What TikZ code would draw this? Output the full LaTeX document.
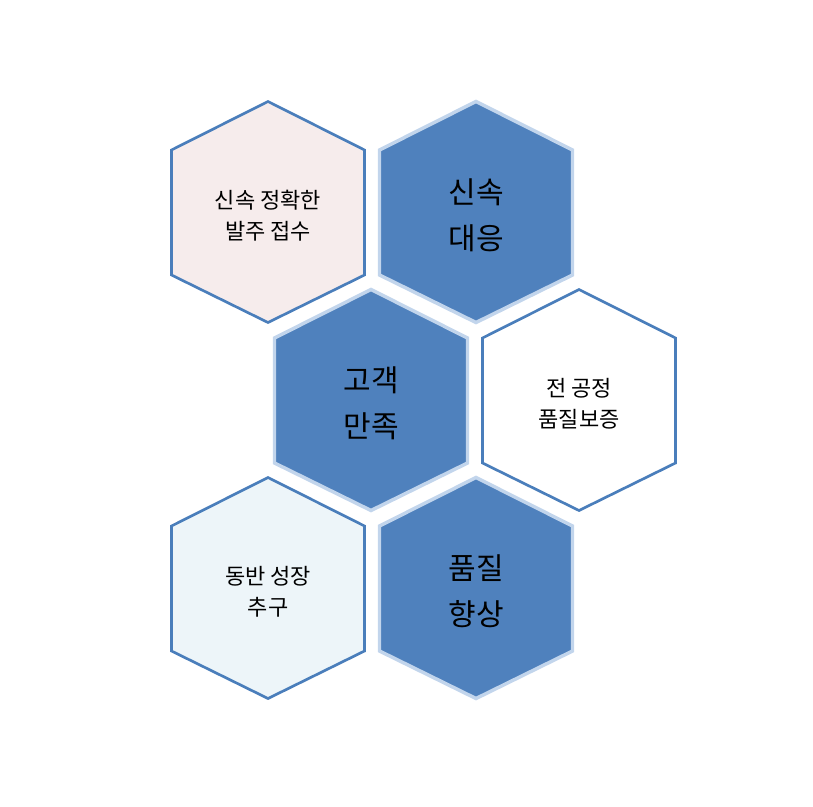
\documentclass[tikz,border=0pt]{standalone}
\usepackage{fontspec}
\setmainfont{Noto Sans CJK KR}
\definecolor{hexblue}{HTML}{4F81BD}
\definecolor{hexline}{HTML}{4A7EBB}
\definecolor{hexedge}{HTML}{C2D5EC}
\definecolor{hexpink}{HTML}{F6ECEC}
\definecolor{hexsky}{HTML}{EDF5F9}
\tikzset{
  hexa/.pic={
    \path[pic actions] (0,-110.5) -- (96.5,-62) -- (96.5,63) -- (0,110.5)
      -- (-96.5,63) -- (-96.5,-62) -- cycle;
  },
  lighthex/.style={draw=hexline, line width=2pt},
  darkhex/.style={draw=hexedge, fill=hexblue, line width=2.6pt},
  smalltext/.style={align=center, yshift=-2.5pt, font=\fontsize{16.5}{23.2}\selectfont},
  bigtext/.style={align=center, yshift=-2.5pt, font=\fontsize{22.5}{34}\selectfont},
}
\begin{document}
\begin{tikzpicture}[x=0.75pt, y=-0.75pt]
        \useasboundingbox (0,0) rectangle (813,806);

        \pic[lighthex, fill=hexpink] at (268,212) {hexa};
        \pic[darkhex] at (476,212) {hexa};
        \pic[darkhex] at (371,400) {hexa};
        \pic[lighthex, fill=white] at (579,400) {hexa};
        \pic[lighthex, fill=hexsky] at (268,588) {hexa};
        \pic[darkhex] at (476,588) {hexa};

        \node[smalltext] (order) at (268,212) {신속 정확한\\발주 접수};
        \node[bigtext] (speed) at (476,212) {신속\\대응};
        \node[bigtext] (customer) at (371,400) {고객\\만족};
        \node[smalltext] (process) at (579,400) {전 공정\\품질보증};
        \node[smalltext] (growth) at (268,588) {동반 성장\\추구};
        \node[bigtext] (quality) at (476,588) {품질\\향상};
      \end{tikzpicture}
\end{document}
